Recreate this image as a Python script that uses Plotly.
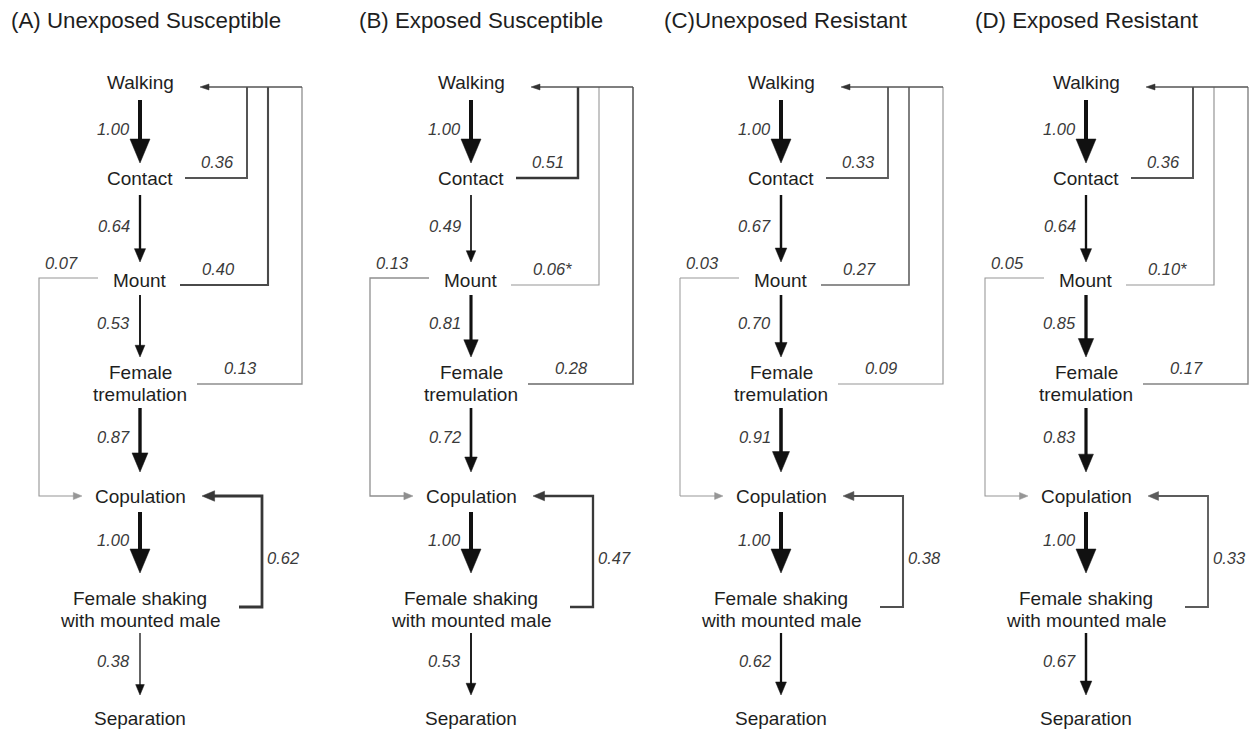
import plotly.graph_objects as go

# ---------------- data ----------------
TITLES = ["(A) Unexposed Susceptible", "(B) Exposed Susceptible",
          "(C)Unexposed Resistant", "(D) Exposed Resistant"]
NODES = ["Walking", "Contact", "Mount", "Female\ntremulation", "Copulation",
         "Female shaking\nwith mounted male", "Separation"]

# forward transitions (Walking->Contact, Contact->Mount, Mount->Trem, Trem->Cop, Cop->Shaking, Shaking->Sep)
forward_A = [1.00, 0.64, 0.53, 0.87, 1.00, 0.38]
forward_B = [1.00, 0.49, 0.81, 0.72, 1.00, 0.53]
forward_C = [1.00, 0.67, 0.70, 0.91, 1.00, 0.62]
forward_D = [1.00, 0.64, 0.85, 0.83, 1.00, 0.67]
FORWARD = [forward_A, forward_B, forward_C, forward_D]

contact_to_walking = [0.36, 0.51, 0.33, 0.36]
mount_to_walking = [0.40, 0.06, 0.27, 0.10]
mount_to_walking_mark = ["", "*", "", "*"]
tremulation_to_walking = [0.13, 0.28, 0.09, 0.17]
mount_to_copulation = [0.07, 0.13, 0.03, 0.05]
shaking_to_copulation = [0.62, 0.47, 0.38, 0.33]

# ---------------- layout constants ----------------
W, H = 1251, 731
PANEL_X = [0, 331, 641, 946]
TITLE_X = [9, 357, 662, 973]
NODE_X = 140
NODE_Y = [82, 178, 280, 383, 496, 609, 718]
ARROW_SPAN = [(100, 163), (195, 262), (295, 357), (408, 472), (512, 573), (633, 695)]
TOP_Y = 87
WALK_TIP_X = 200

FONT = "Liberation Sans, Arial, sans-serif"
fig = go.Figure()
annotations = []


def line(xs, ys, w, color):
    fig.add_trace(go.Scatter(x=xs, y=ys, mode="lines",
                             line=dict(width=w, color=color),
                             hoverinfo="skip", showlegend=False))


def head(tx, ty, direction, hw, hl, color):
    if direction == "down":
        xs = [tx - hw / 2, tx + hw / 2, tx, tx - hw / 2]
        ys = [ty - hl, ty - hl, ty, ty - hl]
    elif direction == "left":
        xs = [tx + hl, tx + hl, tx, tx + hl]
        ys = [ty - hw / 2, ty + hw / 2, ty, ty - hw / 2]
    else:
        xs = [tx - hl, tx - hl, tx, tx - hl]
        ys = [ty - hw / 2, ty + hw / 2, ty, ty - hw / 2]
    fig.add_trace(go.Scatter(x=xs, y=ys, mode="lines", fill="toself",
                             fillcolor=color, line=dict(width=0.5, color=color),
                             hoverinfo="skip", showlegend=False))


def text(x, y, s, size, color, xanchor="center", italic=False):
    annotations.append(dict(x=x, y=y, xref="x", yref="y", text=(f"<i>{s}</i>" if italic else s),
                            showarrow=False, xanchor=xanchor, yanchor="middle",
                            font=dict(family=FONT, size=size, color=color)))


def fb_style(p):
    lw = 0.9 + 3.0 * p
    g = int(max(55, min(150, 150 - 250 * (p - 0.1))))
    return lw, f"rgb({g},{g},{g})"


def fmt(p):
    return f"{p:.2f}"


for k in range(4):
    ox = PANEL_X[k]
    cx = ox + NODE_X
    # title
    text(TITLE_X[k], 20, TITLES[k], 22.3, "#1e1e1e", xanchor="left")
    # nodes
    for name, ny in zip(NODES, NODE_Y):
        parts = name.split("\n")
        if len(parts) == 1:
            text(cx, ny, parts[0], 19, "#1e1e1e")
        else:
            text(cx, ny - 11, parts[0], 19, "#1e1e1e")
            text(cx, ny + 11, parts[1], 19, "#1e1e1e")
    # forward arrows
    for p, (y0, y1) in zip(FORWARD[k], ARROW_SPAN):
        sw = max(1.3, 4.0 * p ** 1.2)
        hw = 8 + 12 * p ** 3
        hl = 1.2 * hw
        line([cx, cx], [y0, y1 - hl + 1], sw, "#111111")
        head(cx, y1, "down", hw, hl, "#111111")
        text(cx - 8, (y0 + y1) / 2 - 3, fmt(p), 16.5, "#3a3a3a", xanchor="right", italic=True)

    # feedback to walking (draw thin first)
    loops = [
        (tremulation_to_walking[k], "", 197, 384, 302, 222, 368),
        (contact_to_walking[k], "", 185, 178, 247, 199, 162),
        (mount_to_walking[k], mount_to_walking_mark[k], 180, 285, 268, 200, 269),
    ]
    for p, mark, sx, sy, vx, lx, ly in loops:
        lw, col = fb_style(p)
        line([ox + sx, ox + vx, ox + vx], [sy, sy, TOP_Y], lw, col)
        text(ox + lx, ly, fmt(p) + mark, 16.5, "#3a3a3a", xanchor="left", italic=True)
    line([ox + WALK_TIP_X + 6, ox + 302], [TOP_Y, TOP_Y], 1.3, "#555555")
    head(ox + WALK_TIP_X, TOP_Y, "left", 6, 9, "#333333")

    # mount -> copulation (left loop)
    p = mount_to_copulation[k]
    lw, col = fb_style(p)
    hw = 5 + 2 * lw
    line([ox + 98, ox + 39, ox + 39, ox + 82 - 1.2 * hw + 1], [278, 278, 496, 496], lw, col)
    head(ox + 82, 496, "right", hw, 1.2 * hw, col)
    text(ox + 61, 263, fmt(p), 16.5, "#3a3a3a", italic=True)

    # shaking -> copulation (right loop)
    p = shaking_to_copulation[k]
    lw, col = fb_style(p)
    hw = 5 + 2 * lw
    line([ox + 239, ox + 262, ox + 262, ox + 202 + 1.2 * hw - 1], [607, 607, 496, 496], lw, col)
    head(ox + 202, 496, "left", hw, 1.2 * hw, col)
    text(ox + 265, 558, fmt(p), 16.5, "#3a3a3a", xanchor="left", italic=True)

fig.update_layout(
    width=W, height=H, margin=dict(l=0, r=0, t=0, b=0),
    paper_bgcolor="white", plot_bgcolor="white",
    xaxis=dict(range=[0, W], visible=False, fixedrange=True),
    yaxis=dict(range=[H, 0], visible=False, fixedrange=True),
    annotations=annotations, showlegend=False,
)
fig.write_html("out.html")
